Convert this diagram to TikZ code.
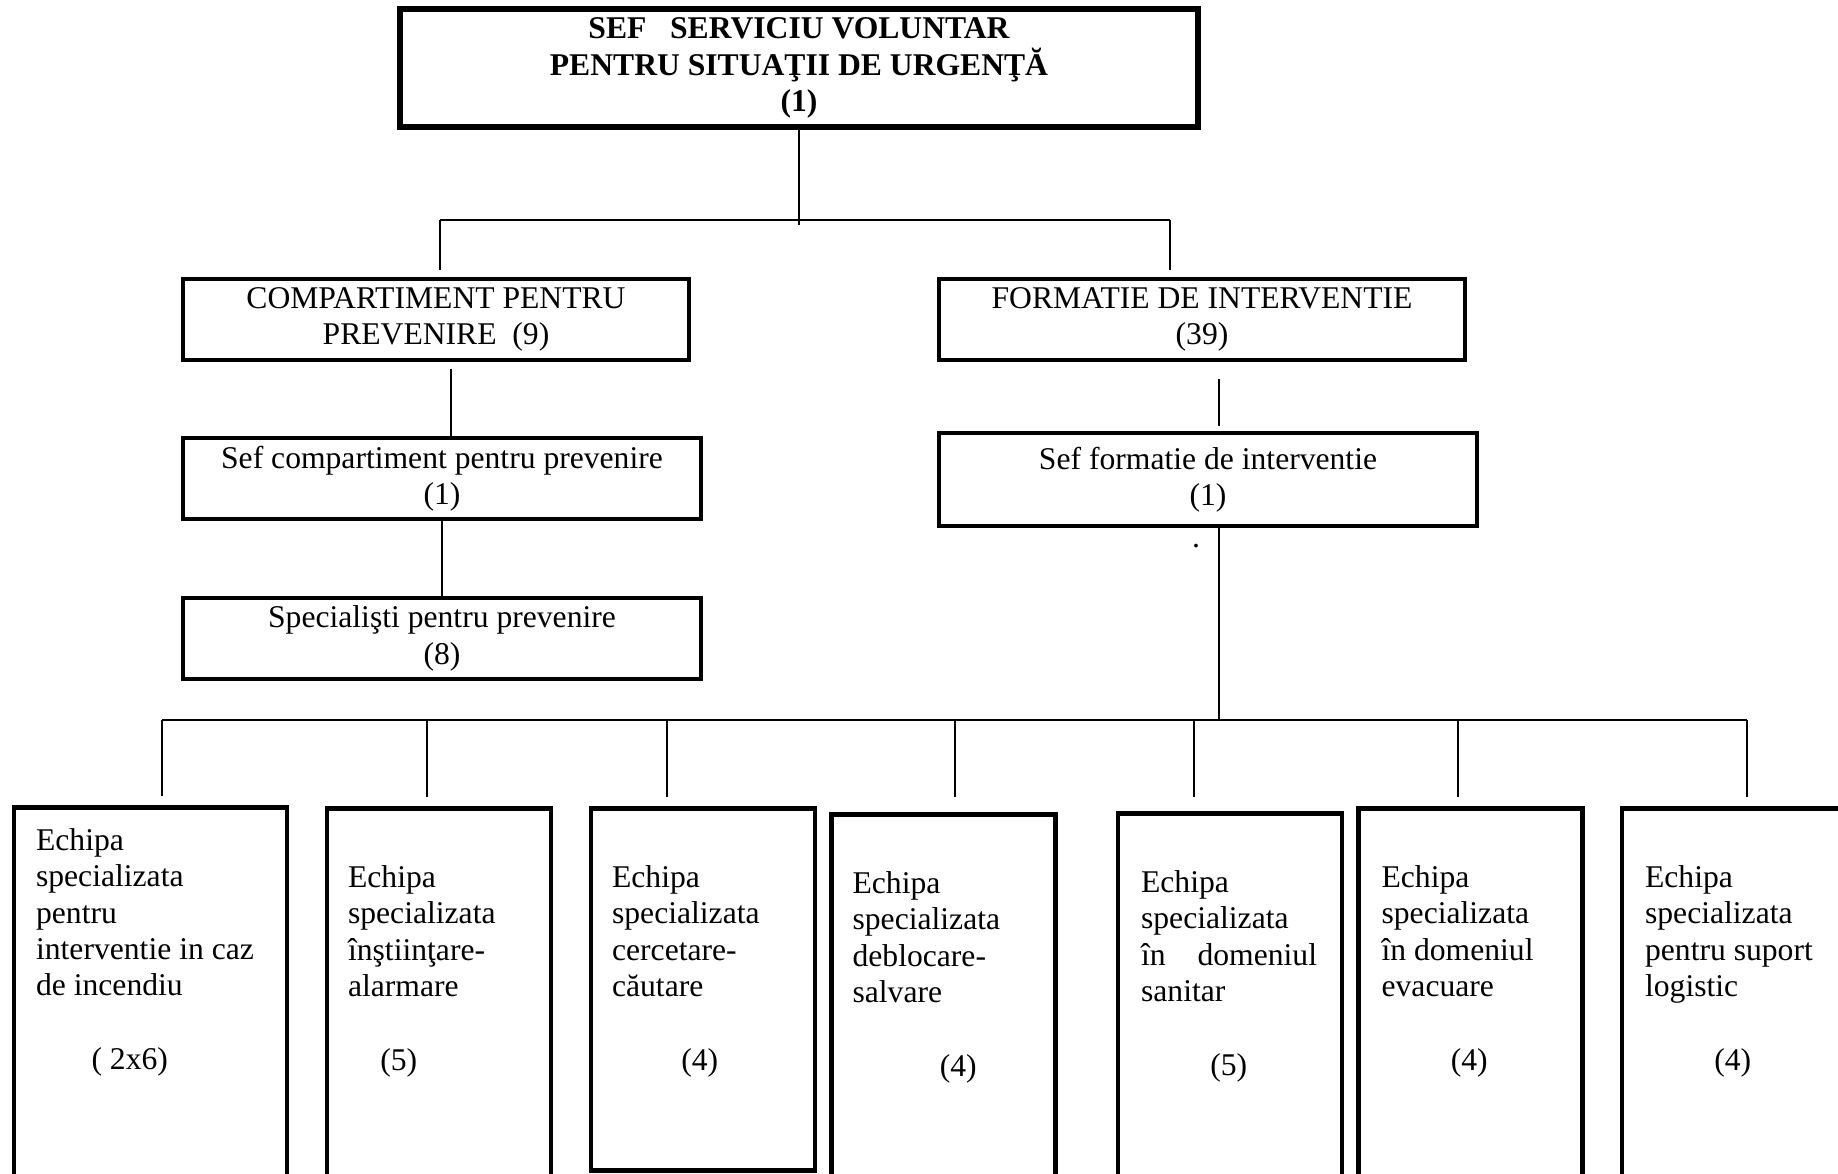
\documentclass[tikz,border=0pt]{standalone}
\usepackage{fontspec}
\setmainfont{Liberation Serif}
\newcommand{\orgfont}{\fontsize{18}{20.7}\selectfont}
\begin{document}
\begin{tikzpicture}[x=0.02cm, y=-0.02cm,
    every node/.style={font=\orgfont},
    boss/.style={draw, line width=3.2pt, align=center, inner sep=0pt,
      minimum width=15.96cm, minimum height=2.36cm, font=\orgfont\bfseries,
      execute at begin node={\rule{0pt}{1em}}},
    unit/.style={draw, line width=2.6pt, align=center, inner sep=0pt, minimum height=1.62cm,
      execute at begin node={\rule{0pt}{1em}}},
    team/.style={draw, line width=2.6pt, anchor=north, minimum width=4.48cm, minimum height=8cm},
    teamtext/.style={anchor=north west, align=left, inner sep=0pt},
    link/.style={line width=1pt}]
  \useasboundingbox (0,0) rectangle (1838,1173);
  \clip (0,0) rectangle (1838,1173);

  \node[boss] (sef) at (799,68) {SEF\ \ \ SERVICIU VOLUNTAR\\ PENTRU SITUAŢII DE URGENŢĂ\\ (1)};

  \node[unit, minimum width=10.12cm] (comp) at (436,319.5) {COMPARTIMENT PENTRU\\ PREVENIRE\ \ (9)};
  \node[unit, minimum width=10.52cm] (form) at (1202,319.5) {FORMATIE DE INTERVENTIE\\ (39)};
  \node[unit, minimum width=10.36cm] (sefcomp) at (442,478.5) {Sef compartiment pentru prevenire\\ (1)};
  \node[unit, minimum width=10.36cm] (spec) at (442,638.5) {Specialişti pentru prevenire\\ (8)};
  \node[unit, minimum width=10.76cm, minimum height=1.86cm] (sefform) at (1208,479.5) {Sef formatie de interventie\\ (1)};
  \node (dot) at (1196,546) {.};

  \coordinate (busl) at (440,220);
  \coordinate (busr) at (1170,220);
  \draw[link] (sef.south) -- ([yshift=-0.1cm]sef.south |- busl);
  \draw[link] (busl) -- (busr);
  \draw[link, shorten >=0.14cm] (busl) -- (busl |- comp.north);
  \draw[link, shorten >=0.14cm] (busr) -- (busr |- form.north);

  \coordinate (cdrop) at ([xshift=0.3cm]comp.south);
  \draw[link, shorten <=0.14cm] (cdrop) -- (cdrop |- sefcomp.north);
  \draw[link] (sefcomp.south) -- (spec.north);
  \coordinate (fdrop) at ([xshift=0.34cm]form.south);
  \draw[link, shorten <=0.34cm, shorten >=0.1cm] (fdrop) -- (fdrop |- sefform.north);

  \node[team, minimum width=5.46cm] (e1) at (150.5,805) {};
  \node[team] (e2) at (439,806) {};
  \node[team, minimum height=7.24cm] (e3) at (703,806) {};
  \node[team] (e4) at (943.5,812) {};
  \node[team] (e5) at (1230,811) {};
  \node[team] (e6) at (1470.5,806) {};
  \node[team] (e7) at (1734,806) {};

  \node[teamtext] (t1) at ([shift={(0.48cm,-0.46cm)}]e1.north west) {Echipa\\ specializata\\ pentru\\ interventie in caz\\ de incendiu};
  \node[teamtext] (t2) at ([shift={(0.46cm,-1.18cm)}]e2.north west) {Echipa\\ specializata\\ înştiinţare-\\ alarmare};
  \node[teamtext] (t3) at ([shift={(0.46cm,-1.18cm)}]e3.north west) {Echipa\\ specializata\\ cercetare-\\ căutare};
  \node[teamtext] (t4) at ([shift={(0.46cm,-1.18cm)}]e4.north west) {Echipa\\ specializata\\ deblocare-\\ salvare};
  \node[teamtext] (t5) at ([shift={(0.5cm,-1.18cm)}]e5.north west) {Echipa\\ specializata\\ \makebox[3.52cm][s]{în\hfill domeniul}\\ sanitar};
  \node[teamtext] (t6) at ([shift={(0.5cm,-1.18cm)}]e6.north west) {Echipa\\ specializata\\ în domeniul\\ evacuare};
  \node[teamtext] (t7) at ([shift={(0.5cm,-1.18cm)}]e7.north west) {Echipa\\ specializata\\ pentru suport\\ logistic};

  \node (n1) at ([shift={(2.36cm,-5.14cm)}]e1.north west) {( 2x6)};
  \node (n2) at ([shift={(1.48cm,-5.14cm)}]e2.north west) {(5)};
  \node (n3) at ([shift={(2.22cm,-5.14cm)}]e3.north west) {(4)};
  \node (n4) at ([shift={(2.58cm,-5.14cm)}]e4.north west) {(4)};
  \node (n5) at ([shift={(2.26cm,-5.14cm)}]e5.north west) {(5)};
  \node (n6) at ([shift={(2.26cm,-5.14cm)}]e6.north west) {(4)};
  \node (n7) at ([shift={(2.26cm,-5.14cm)}]e7.north west) {(4)};

  \coordinate (b1) at (162,720);
  \coordinate (b2) at (427,720);
  \coordinate (b3) at (667,720);
  \coordinate (b4) at (955,720);
  \coordinate (b5) at (1194,720);
  \coordinate (b6) at (1458,720);
  \coordinate (b7) at (1747,720);
  \coordinate (sdrop) at ([xshift=0.22cm]sefform.south);
  \draw[link] (sdrop) -- (sdrop |- b1);
  \draw[link] (b1) -- (b7);
  \draw[link, shorten >=0.18cm] (b1) -- (b1 |- e1.north);
  \draw[link, shorten >=0.18cm] (b2) -- (b2 |- e2.north);
  \draw[link, shorten >=0.18cm] (b3) -- (b3 |- e3.north);
  \draw[link, shorten >=0.3cm] (b4) -- (b4 |- e4.north);
  \draw[link, shorten >=0.28cm] (b5) -- (b5 |- e5.north);
  \draw[link, shorten >=0.18cm] (b6) -- (b6 |- e6.north);
  \draw[link, shorten >=0.18cm] (b7) -- (b7 |- e7.north);
\end{tikzpicture}
\end{document}
